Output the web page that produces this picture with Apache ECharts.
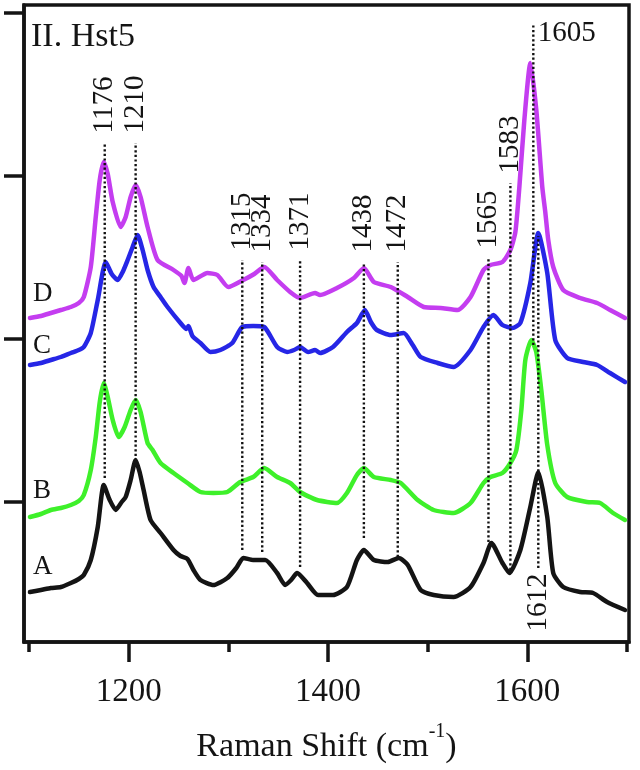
<!DOCTYPE html>
<html><head><meta charset="utf-8">
<script src="https://cdn.jsdelivr.net/npm/echarts@6/dist/echarts.min.js"></script>
<style>html,body{margin:0;padding:0;background:#fff}#c{width:640px;height:770px}</style>
</head><body><div id="c"></div>
<script>
// ---- data (intensity in arbitrary units) ----
const shiftA = [1101,1112,1122,1132,1142,1150,1155,1162,1169,1175,1181,1187,1193,1197,1202,1207,1211,1215,1222,1232,1245,1252,1259,1265,1272,1285,1299,1308,1315,1325,1337,1349,1357,1363,1369,1379,1390,1405,1419,1429,1436,1446,1460,1471,1480,1493,1506,1526,1543,1556,1564,1575,1582,1593,1603,1611,1620,1626,1636,1653,1666,1680,1698];
const intensityA = [50,52,54,55,59,63,67,82,115,157,142,132,140,145,162,182,170,152,122,109,92,86,83,72,62,57,64,74,84,82,82,69,57,62,69,59,47,47,55,82,92,82,80,84,77,52,47,45,55,79,99,79,69,92,135,170,125,69,55,50,49,40,32];

const shiftB = [1101,1112,1122,1132,1142,1150,1155,1162,1167,1171,1175,1179,1184,1190,1196,1202,1207,1212,1219,1224,1232,1245,1259,1272,1285,1299,1312,1325,1336,1349,1362,1372,1389,1409,1419,1429,1436,1446,1463,1473,1490,1506,1526,1543,1556,1563,1575,1583,1589,1594,1598,1604,1609,1614,1620,1628,1640,1660,1673,1686,1698];
const intensityB = [125,128,132,134,137,141,147,172,205,240,259,245,222,205,215,232,242,230,199,192,179,169,159,150,149,150,160,165,174,165,159,150,142,139,149,167,174,165,162,159,142,132,129,139,159,165,169,179,192,232,282,302,290,252,197,159,145,140,139,129,122];

const shiftC = [1101,1112,1122,1132,1142,1150,1155,1162,1169,1177,1183,1189,1194,1199,1204,1209,1214,1219,1225,1232,1239,1252,1258,1260,1264,1272,1282,1292,1304,1314,1325,1336,1349,1359,1366,1372,1380,1387,1392,1405,1419,1429,1437,1443,1449,1463,1476,1485,1493,1510,1526,1543,1556,1566,1575,1585,1593,1603,1611,1620,1628,1640,1656,1670,1683,1698];
const intensityC = [277,279,282,285,289,292,295,309,342,380,368,362,370,382,395,407,392,372,355,345,335,319,313,316,306,299,290,292,299,315,316,315,295,290,292,295,290,292,289,295,310,319,332,320,312,307,309,297,285,279,275,292,315,327,317,314,319,359,409,369,302,284,280,277,269,260];

const shiftD = [1101,1112,1122,1132,1142,1150,1155,1162,1167,1171,1175,1179,1184,1192,1197,1202,1207,1212,1219,1229,1245,1253,1256,1260,1265,1279,1289,1300,1315,1326,1336,1349,1362,1372,1387,1392,1409,1426,1436,1446,1463,1480,1496,1513,1530,1543,1556,1563,1575,1583,1588,1592,1597,1603,1609,1615,1618,1621,1626,1636,1653,1670,1683,1698];
const intensityD = [324,326,329,332,335,339,345,375,425,462,480,468,440,415,425,445,457,445,415,382,372,366,359,374,362,369,367,355,362,368,375,362,350,344,349,347,354,364,374,360,355,345,335,334,332,345,372,377,380,392,410,455,522,579,532,455,430,402,375,352,344,339,332,324];

const traceNames = ['A','B','C','D'];

// marked bands: label text, drawn position, dotted line top and bottom (intensity units)
const peakLabels = ['1176','1210','1315','1334','1371','1438','1472','1565','1583','1605','1612'];
const peakShift  = [1176,1207,1314,1334,1372,1436,1470,1561,1583,1606,1611];
const peakTop    = [499,499,382,380,382,380,380,384,459,619,406];
const peakBottom = [164,186,92,90,75,104,85,100,72,297,74];

const majorTicks = [1200,1400,1600];
const minorTicks = [1100,1300,1500,1700];
const yTicks = [140,303,466,629];

// ---- chart ----
const FONT = '"Liberation Serif", "Times New Roman", serif';
const INK = '#141414';
const colors = {A:'#141414', B:'#3ef02a', C:'#2626e6', D:'#c43df0'};
const letterOffset = {A:-25, B:-26, C:-19, D:-24};
const shifts = {A:shiftA, B:shiftB, C:shiftC, D:shiftD};
const ints = {A:intensityA, B:intensityB, C:intensityC, D:intensityD};

const series = [];
traceNames.forEach(n => {
  const data = shifts[n].map((x,i) => [x, ints[n][i]]);
  data[0] = {value: data[0], label: {show:true, formatter: n, position:'top', distance:0,
    align:'left', verticalAlign:'middle', offset:[3, letterOffset[n]],
    fontFamily: FONT, fontSize: 27, color: INK}};
  series.push({
    type:'line', name:n, data, xAxisIndex:0, yAxisIndex:0,
    symbol:'circle', symbolSize:1, showSymbol:true,
    itemStyle:{color:'rgba(0,0,0,0)'},
    lineStyle:{color:colors[n], width:4.5, cap:'round', join:'round'},
    smooth:0.2, silent:true, z:2
  });
});

peakLabels.forEach((lab, i) => {
  let topLabel = null, bottomLabel = null;
  const base = {show:true, formatter: lab, fontFamily: FONT, fontSize: 29, color: INK};
  if (lab === '1605') {
    topLabel = Object.assign({}, base, {position:'right', distance:4, align:'left', verticalAlign:'middle', offset:[0,10]});
  } else if (lab === '1612') {
    bottomLabel = Object.assign({}, base, {position:'bottom', distance:5, rotate:90, align:'right', verticalAlign:'middle'});
  } else {
    topLabel = Object.assign({}, base, {position:'top', distance:9, rotate:90, align:'left', verticalAlign:'middle'});
  }
  const pBottom = {value:[peakShift[i], peakBottom[i]]};
  const pTop = {value:[peakShift[i], peakTop[i]]};
  if (topLabel) pTop.label = topLabel;
  if (bottomLabel) pBottom.label = bottomLabel;
  series.push({
    type:'line', data:[pBottom, pTop], xAxisIndex:0, yAxisIndex:0,
    symbol:'circle', symbolSize:1, showSymbol:true,
    itemStyle:{color:'rgba(0,0,0,0)'},
    lineStyle:{color:'#111', width:2.4, type:[2.2,2.4]},
    silent:true, z:5
  });
});

const chart = echarts.init(document.getElementById('c'), null, {renderer:'canvas'});
chart.setOption({
  animation:false,
  backgroundColor:'#fff',
  title:{text:'II. Hst5', left:31, top:20, padding:0,
    textStyle:{fontFamily:FONT, fontSize:34, fontWeight:'normal', color:INK}},
  grid:{left:24, right:11, top:5, bottom:128, show:true, borderColor:INK, borderWidth:3.5,
    containLabel:false, outerBoundsMode:'none'},
  xAxis:[{
    type:'value', min:1095, max:1702, position:'bottom',
    axisLine:{show:true, lineStyle:{color:INK, width:3.5}},
    axisTick:{show:true, inside:false, length:20, customValues:majorTicks, lineStyle:{color:INK, width:3.5}},
    axisLabel:{show:true, customValues:majorTicks, formatter: v => String(v), margin:34,
      fontFamily:FONT, fontSize:33, color:INK},
    splitLine:{show:false},
    name:'{a|Raman Shift (cm}{s|-1}{a|)}', nameLocation:'middle', nameGap:80,
    nameTextStyle:{rich:{
      a:{fontFamily:FONT, fontSize:34, lineHeight:50, color:INK},
      s:{fontFamily:FONT, fontSize:20, lineHeight:20, verticalAlign:'top', color:INK}
    }}
  },{
    type:'value', min:1095, max:1702, position:'bottom',
    axisLine:{show:false},
    axisTick:{show:true, inside:false, length:10, customValues:minorTicks, lineStyle:{color:INK, width:3.5}},
    axisLabel:{show:false}, splitLine:{show:false}
  }],
  yAxis:{
    type:'value', min:0, max:637,
    axisLine:{show:true, lineStyle:{color:INK, width:3.5}},
    axisTick:{show:true, inside:false, length:20, customValues:yTicks, lineStyle:{color:INK, width:3.5}},
    axisLabel:{show:false}, splitLine:{show:false}
  },
  series
});
</script>
</body></html>
